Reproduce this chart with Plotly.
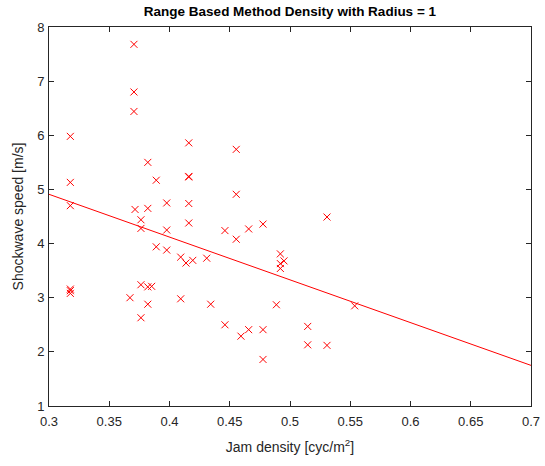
import plotly.graph_objects as go

density = [0.3177, 0.3177, 0.3177, 0.3177, 0.3177, 0.3177,
           0.3705, 0.3705, 0.3705, 0.3714, 0.3672,
           0.3763, 0.3763, 0.3763, 0.3763,
           0.382, 0.382, 0.382, 0.382, 0.3852,
           0.389, 0.389,
           0.3977, 0.3977, 0.3977,
           0.4093, 0.4093, 0.4137, 0.4193,
           0.416, 0.416, 0.416, 0.416, 0.416,
           0.4309, 0.4342, 0.446, 0.446,
           0.4554, 0.4554, 0.4554, 0.4593,
           0.4657, 0.4657, 0.4776, 0.4776, 0.4776,
           0.4887, 0.492, 0.492, 0.492, 0.495,
           0.5147, 0.5147, 0.5307, 0.5307, 0.5537]
speed = [5.98, 5.13, 4.70, 3.16, 3.13, 3.08,
         7.68, 6.80, 6.44, 4.63, 3.00,
         4.44, 4.28, 3.24, 2.63,
         5.50, 4.65, 3.20, 2.88, 3.21,
         5.17, 3.94,
         4.75, 4.25, 3.88,
         3.75, 2.98, 3.64, 3.69,
         5.86, 5.24, 5.23, 4.74, 4.38,
         3.73, 2.88, 4.24, 2.50,
         5.74, 4.91, 4.08, 2.29,
         4.27, 2.41, 4.36, 2.41, 1.86,
         2.87, 3.81, 3.63, 3.54, 3.68,
         2.47, 2.13, 4.49, 2.12, 2.85]

fit_slope = -7.9
fit_intercept = 7.28
x_range = [0.3, 0.7]
x_ticks = [0.3, 0.35, 0.4, 0.45, 0.5, 0.55, 0.6, 0.65, 0.7]
y_ticks = [1, 2, 3, 4, 5, 6, 7, 8]

fit_y = [fit_intercept + fit_slope * x for x in x_range]

fig = go.Figure()
fig.add_trace(go.Scatter(
    x=density, y=speed, mode="markers",
    marker=dict(symbol="x-thin", size=7, line=dict(color="#ff0000", width=1), color="#ff0000"),
    showlegend=False, cliponaxis=False))
fig.add_trace(go.Scatter(
    x=x_range, y=fit_y, mode="lines",
    line=dict(color="#ff0000", width=1), showlegend=False))

axis_common = dict(
    showgrid=False, zeroline=False, showline=True, linecolor="#262626", linewidth=1,
    mirror="ticks", ticks="inside", ticklen=5, tickcolor="#262626", tickwidth=1,
    automargin=False,
    tickfont=dict(family="Liberation Sans, Arial", size=13, color="#262626"),
)

fig.update_layout(
    width=545, height=466,
    margin=dict(l=49, r=14, t=27, b=60, autoexpand=False),
    paper_bgcolor="white", plot_bgcolor="white",
    title=dict(text="<b>Range Based Method Density with Radius = 1</b>",
               x=0.532, xanchor="center", y=0.975, yanchor="middle",
               font=dict(family="Liberation Sans, Arial", size=13.5, color="black")),
    xaxis=dict(range=x_range, tickvals=x_ticks, ticktext=[f"{t:g}" for t in x_ticks],
               ticklabelstandoff=3,
               title=dict(text="Jam density [cyc/m<sup>2</sup>]", standoff=14,
                          font=dict(family="Liberation Sans, Arial", size=14, color="#262626")),
               **axis_common),
    yaxis=dict(range=[1, 8], tickvals=y_ticks, ticklabelstandoff=1,
               title=dict(text="Shockwave speed [m/s]", standoff=10,
                          font=dict(family="Liberation Sans, Arial", size=14, color="#262626")),
               **axis_common),
)

fig.write_html("out.html")
